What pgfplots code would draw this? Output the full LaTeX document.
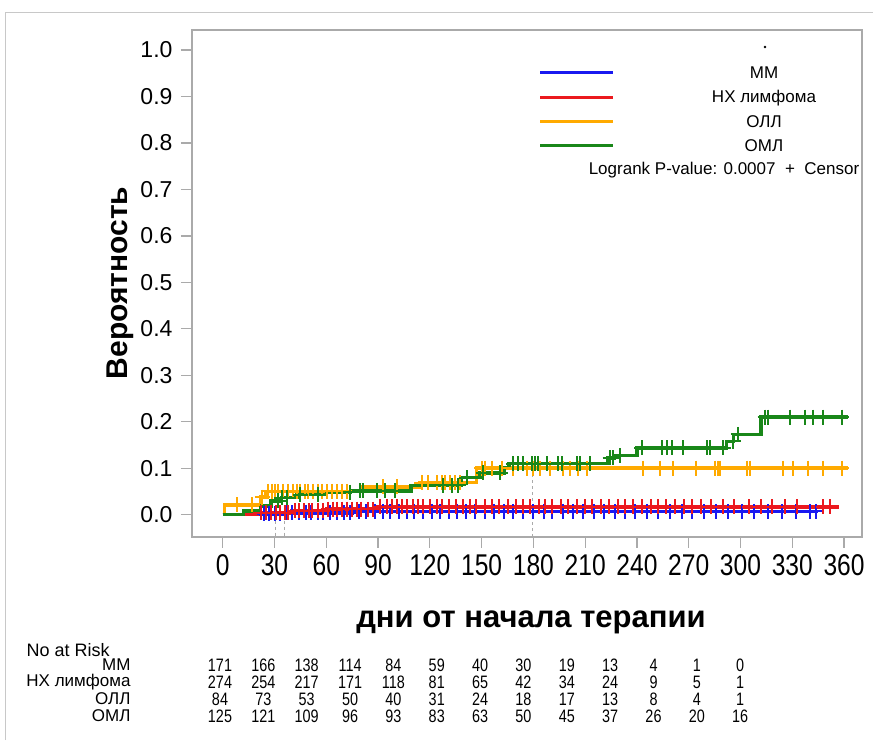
\documentclass[border=0pt]{standalone}
\usepackage{fontspec}
\setmainfont{Liberation Sans}
\newfontfamily\narrowfont[FakeStretch=0.8]{Liberation Sans}
\newfontfamily\tickfont[FakeStretch=0.82]{Liberation Sans}
\usepackage{pgfplots}
\pgfplotsset{compat=1.18}

\definecolor{kmblue}{RGB}{25,25,240}
\definecolor{kmred}{RGB}{235,25,30}
\definecolor{kmorange}{RGB}{255,170,0}
\definecolor{kmgreen}{RGB}{25,135,25}
\definecolor{frame}{RGB}{200,200,200}
\definecolor{axisgray}{RGB}{170,170,170}

\begin{document}
\begin{tikzpicture}[x=1pt,y=1pt]
\useasboundingbox (0,0) rectangle (873,740);
\fill[white] (0,0) rectangle (873,740);
% outer frame of the figure
\draw[frame, line width=1pt] (5,0) -- (5,727) -- (873,727);

\begin{axis}[
  at={(192pt,203pt)}, anchor=south west,
  scale only axis, width=670pt, height=507pt,
  xmin=-17.8, xmax=370.4,
  ymin=-0.048, ymax=1.043,
  xtick={0,30,60,90,120,150,180,210,240,270,300,330,360},
  ytick={0,0.1,0.2,0.3,0.4,0.5,0.6,0.7,0.8,0.9,1.0},
  xtick pos=lower, ytick pos=left,
  tick align=outside, major tick length=11pt,
  axis line style={draw=axisgray, line width=1.3pt},
  tick style={draw=axisgray, line width=1.3pt},
  /pgf/number format/assume math mode=true,
  yticklabel style={font=\fontsize{23}{25}\selectfont, xshift=-5pt,
    /pgf/number format/.cd, fixed, fixed zerofill, precision=1},
  xticklabel style={font=\tickfont\fontsize{30}{32}\selectfont, yshift=-3pt},
  clip=true,
]
% dashed reference lines
\addplot[axisgray, dashed, line width=1pt] coordinates {(179.5,0.10) (179.5,-0.048)};
\addplot[axisgray, dashed, line width=1pt] coordinates {(30.5,0.0) (30.5,-0.048)};
\addplot[axisgray, dashed, line width=1pt] coordinates {(35.7,0.0) (35.7,-0.048)};

% MM
\addplot[const plot, kmblue, line width=3.5pt] coordinates {
(0,0) (20,0.002) (35,0.004) (75,0.007) (345,0.007)};
\addplot[only marks, mark=+, mark size=7.5pt, kmblue, line width=2pt] coordinates {
(24,0.002) (27,0.002) (30,0.002) (33,0.002) (37,0.004) (40,0.004) (44,0.004) (48,0.004)
(51,0.004) (55,0.004) (58,0.004) (62,0.004) (66,0.004) (70,0.004) (74,0.004) (79,0.007)
(83,0.007) (88,0.007) (93,0.007) (97,0.007) (102,0.007) (107,0.007) (111,0.007) (116,0.007)
(121,0.007) (126,0.007) (131,0.007) (136,0.007) (141,0.007) (146,0.007) (152,0.007) (157,0.007)
(163,0.007) (168,0.007) (174,0.007) (180,0.007) (186,0.007) (191,0.007) (197,0.007) (203,0.007)
(209,0.007) (215,0.007) (221,0.007) (227,0.007) (233,0.007) (239,0.007) (246,0.007) (252,0.007)
(259,0.007) (266,0.007) (272,0.007) (279,0.007) (286,0.007) (293,0.007) (301,0.007) (308,0.007)
(316,0.007) (324,0.007) (332,0.007) (340,0.007) (344,0.007)};

% NH lymphoma
\addplot[const plot, kmred, line width=3.5pt] coordinates {
(0,0) (20,0.004) (40,0.008) (60,0.012) (90,0.017) (357,0.017)};
\addplot[only marks, mark=+, mark size=7.5pt, kmred, line width=2pt] coordinates {
(22,0.004) (25,0.004) (28,0.004) (31,0.004) (33,0.004) (36,0.004) (38,0.004) (42,0.008)
(44,0.008) (47,0.008) (50,0.008) (52,0.008) (55,0.008) (58,0.008) (61,0.012) (64,0.012)
(66,0.012) (69,0.012) (72,0.012) (75,0.012) (78,0.012) (80,0.012) (84,0.012) (87,0.012)
(91,0.017) (95,0.017) (98,0.017) (101,0.017) (104,0.017) (107,0.017) (110,0.017) (113,0.017)
(116,0.017) (120,0.017) (124,0.017) (127,0.017) (131,0.017) (135,0.017) (139,0.017) (143,0.017)
(147,0.017) (152,0.017) (156,0.017) (160,0.017) (165,0.017) (170,0.017) (174,0.017) (178,0.017)
(183,0.017) (187,0.017) (191,0.017) (196,0.017) (200,0.017) (205,0.017) (210,0.017) (214,0.017)
(219,0.017) (224,0.017) (229,0.017) (233,0.017) (238,0.017) (243,0.017) (248,0.017) (252,0.017)
(257,0.017) (262,0.017) (267,0.017) (272,0.017) (277,0.017) (283,0.017) (290,0.017) (296,0.017)
(305,0.017) (312,0.017) (318,0.017) (326,0.017) (333,0.017) (348,0.017) (352,0.017)};

% OLL
\addplot[const plot, kmorange, line width=3.5pt] coordinates {
(0,0) (1,0.021) (22,0.038) (25,0.05) (80,0.06) (114,0.069) (147,0.10) (362,0.10)};
\addplot[only marks, mark=+, mark size=7.5pt, kmorange, line width=2pt] coordinates {
(8,0.021) (17,0.021) (23,0.038) (26.4,0.05) (28.4,0.05) (30.3,0.05) (32.2,0.05) (35.1,0.05)
(38,0.05) (40.9,0.05) (42.8,0.05) (44.8,0.05) (47.7,0.05) (49.6,0.05) (52.5,0.05) (55.4,0.05)
(57.4,0.05) (60.3,0.05) (63.2,0.05) (66.1,0.05) (69,0.05) (71.9,0.05) (93,0.06) (100.8,0.06)
(115.3,0.069) (119.1,0.069) (124,0.069) (126.9,0.069) (128.8,0.069) (131.7,0.069) (134.6,0.069)
(137.5,0.069) (150,0.10) (152,0.10) (155.8,0.10) (161.6,0.10) (168.4,0.10) (176.1,0.10)
(180,0.10) (183.8,0.10) (189.6,0.10) (197.3,0.10) (201.2,0.10) (206,0.10) (210.8,0.10)
(243.7,0.10) (253.3,0.10) (261,0.10) (274.5,0.10) (285.2,0.10) (287.1,0.10) (288,0.10)
(303.5,0.10) (305.4,0.10) (324.7,0.10) (330.5,0.10) (339.2,0.10) (347.9,0.10) (358.6,0.10)};

% OML
\addplot[const plot, kmgreen, line width=3.5pt] coordinates {
(0,0) (12,0.008) (22,0.019) (28,0.03) (34,0.037) (43,0.043) (60,0.048) (74,0.051)
(109,0.063) (138,0.08) (149,0.09) (163,0.102) (166,0.11) (223,0.122) (227,0.127)
(240,0.144) (292,0.158) (296,0.173) (312,0.21) (362,0.21)};
\addplot[only marks, mark=+, mark size=7.5pt, kmgreen, line width=2pt] coordinates {
(32.2,0.03) (34.2,0.037) (37.1,0.037) (44.8,0.043) (55.4,0.043) (73.8,0.048) (79.5,0.051)
(81.5,0.051) (89.2,0.051) (94,0.051) (99.8,0.051) (127.8,0.063) (132.7,0.063) (136.5,0.063)
(141.4,0.08) (151,0.09) (160.7,0.09) (168.4,0.11) (171.3,0.11) (174.2,0.11) (179,0.11)
(181,0.11) (182.9,0.11) (187.7,0.11) (194.5,0.11) (196.4,0.11) (205,0.11) (207,0.11)
(212.8,0.11) (224.4,0.122) (226.3,0.122) (230.2,0.127) (242.8,0.144) (254.3,0.144)
(257.2,0.144) (260.1,0.144) (266.9,0.144) (280.4,0.144) (282.3,0.144) (290,0.144)
(295.8,0.158) (298.7,0.173) (314.2,0.21) (316.1,0.21) (328.7,0.21) (337.4,0.21)
(342.2,0.21) (348,0.21) (358.6,0.21)};
\end{axis}

% axis titles
\node[rotate=90, font=\bfseries\fontsize{30}{32}\selectfont] at (120,457) {Вероятность};
\node[font=\bfseries\fontsize{31}{33}\selectfont] at (531,118) {дни от начала терапии};

% legend
\fill (765,693) circle (1.3);
\draw[kmblue, line width=3pt] (540,667) -- (613,667);
\draw[kmred, line width=3pt] (540,642) -- (613,642);
\draw[kmorange, line width=3pt] (540,618) -- (613,618);
\draw[kmgreen, line width=3pt] (540,594) -- (613,594);
\begin{scope}[every node/.style={font=\fontsize{17}{19}\selectfont}]
\node at (764,667) {ММ};
\node at (764,642) {НХ лимфома};
\node at (764,618) {ОЛЛ};
\node at (764,594) {ОМЛ};
\node at (724,570) {Logrank P-value: 0.0007~~+~~Censor};
\end{scope}

% number at risk table
\node[anchor=west, font=\fontsize{18}{20}\selectfont] at (23,90) {No at Risk};
\begin{scope}[every node/.style={anchor=east, font=\fontsize{17}{19}\selectfont}]
\node at (134,75) {ММ};
\node at (134,58) {НХ лимфома};
\node at (134,41) {ОЛЛ};
\node at (134,24) {ОМЛ};
\end{scope}
\begin{scope}[every node/.style={font=\narrowfont\fontsize{18}{20}\selectfont}]
\foreach \v [count=\i from 0] in {171,166,138,114,84,59,40,30,19,13,4,1,0}
  \node at (220+43.35*\i,75) {\v};
\foreach \v [count=\i from 0] in {274,254,217,171,118,81,65,42,34,24,9,5,1}
  \node at (220+43.35*\i,58) {\v};
\foreach \v [count=\i from 0] in {84,73,53,50,40,31,24,18,17,13,8,4,1}
  \node at (220+43.35*\i,41) {\v};
\foreach \v [count=\i from 0] in {125,121,109,96,93,83,63,50,45,37,26,20,16}
  \node at (220+43.35*\i,24) {\v};
\end{scope}
\end{tikzpicture}
\end{document}
